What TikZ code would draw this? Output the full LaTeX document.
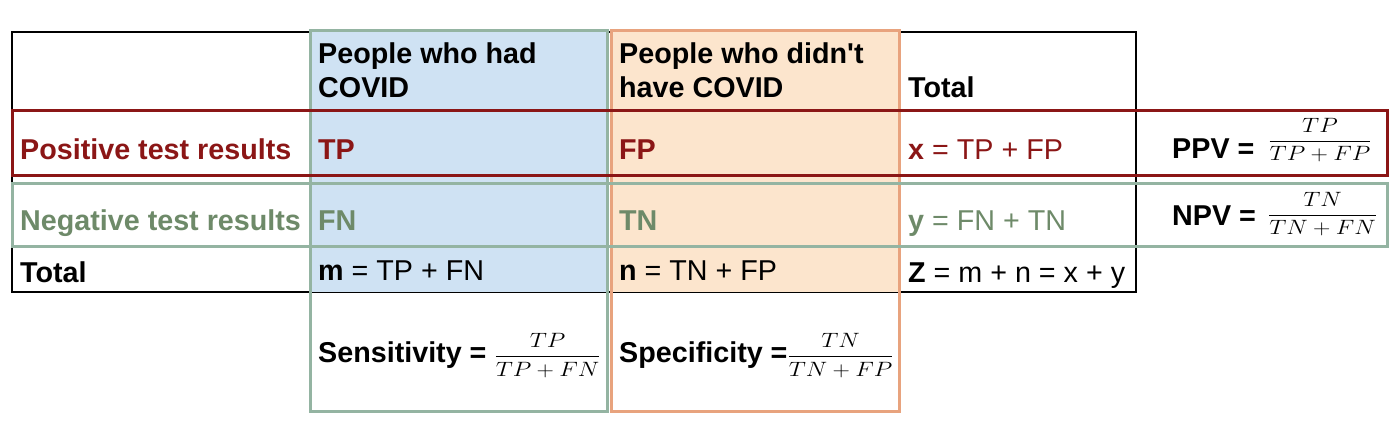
\documentclass[tikz,border=0pt]{standalone}
\usepackage{amsmath}
\usepackage{graphicx}
\usepackage{fontspec}
\setmainfont{Liberation Sans}
\usepackage{xcolor}
\definecolor{posred}{HTML}{8B1616}
\definecolor{negtext}{HTML}{6E8A69}
\definecolor{negline}{HTML}{94B4A2}
\definecolor{hadfill}{HTML}{CFE2F3}
\definecolor{notfill}{HTML}{FCE5CD}
\definecolor{notline}{HTML}{E8A37E}
% fraction as in the reference: a bit wider than usual
\newcommand{\ratefrac}[3][0pt]{\raisebox{#1}{\fontsize{22}{26}\selectfont\scalebox{1.16}[1]{$\dfrac{#2}{#3}$}}}

\begin{document}
\begin{tikzpicture}[x=1pt,y=-1pt,
  every node/.style={anchor=base west, inner sep=0pt, font=\fontsize{28.7}{34}\selectfont},
  head/.style={align=left, font=\fontsize{28.7}{34}\selectfont\bfseries}]
\useasboundingbox (0,0) rectangle (1400,447);

% table frame
\draw [line width=1.5pt] (12,32) rectangle (1136,292);

% columns
\fill [hadfill] (310,30) rectangle (607,292);
\fill [notfill] (611,30) rectangle (899,292);
\draw [negline, line width=3pt] (310,30) rectangle (607,411);
\draw [notline, line width=3pt] (611,30) rectangle (899,411);

% rows
\draw [posred, line width=3pt] (12,110) rectangle (1387,175);
\draw [negline, line width=3pt] (12,183) rectangle (1387,246);

% header
\node [head] (hadhead) at (318,97) {People who had\\COVID};
\node [head] (nothead) at (619,97) {People who didn\textquotesingle t\\have COVID};
\node [head] (totalhead) at (908,97) {Total};

% positive row
\node [posred, font=\fontsize{28.7}{34}\selectfont\bfseries] (poslabel) at (20,159) {Positive test results};
\node [posred, font=\fontsize{28.7}{34}\selectfont\bfseries] (tp) at (318,159) {TP};
\node [posred, font=\fontsize{28.7}{34}\selectfont\bfseries] (fp) at (619,159) {FP};
\node [posred] (xsum) at (908,159) {\textbf{x} = TP + FP};
\node (ppv) at (1172,158) {\textbf{PPV =}\hspace{6pt} \ratefrac[11.5pt]{TP}{TP+FP}};

% negative row
\node [negtext, font=\fontsize{28.7}{34}\selectfont\bfseries] (neglabel) at (20,230) {Negative test results};
\node [negtext, font=\fontsize{28.7}{34}\selectfont\bfseries] (fn) at (318,230) {FN};
\node [negtext, font=\fontsize{28.7}{34}\selectfont\bfseries] (tn) at (619,230) {TN};
\node [negtext] (ysum) at (908,230) {\textbf{y} = FN + TN};
\node (npv) at (1172,225) {\textbf{NPV =}\hspace{4pt} \ratefrac[4.8pt]{TN}{TN+FN}};

% totals
\node [font=\fontsize{28.7}{34}\selectfont\bfseries] (totallabel) at (20,282) {Total};
\node (msum) at (318,280) {\textbf{m} = TP + FN};
\node (nsum) at (619,280) {\textbf{n} = TN + FP};
\node (zsum) at (908,282) {\textbf{Z} = m + n = x + y};

% rates
\node (sens) at (318,362) {\textbf{Sensitivity =} \ratefrac{TP}{TP+FN}};
\node (spec) at (619,362) {\textbf{Specificity =}\ratefrac{TN}{TN+FP}};

\end{tikzpicture}
\end{document}
